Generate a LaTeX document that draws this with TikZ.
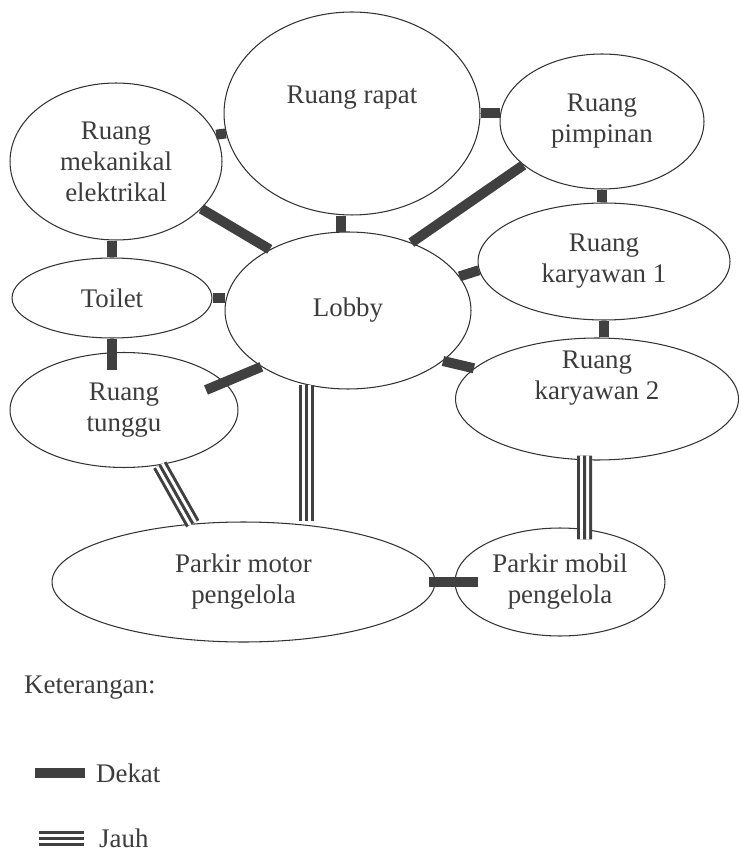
\documentclass[tikz,border=0pt]{standalone}
\usepackage{fontspec}
\setmainfont{Liberation Serif}
\usepackage{tikz}
\usetikzlibrary{shapes.geometric,positioning,calc}
\definecolor{bubbleline}{HTML}{333333}
\definecolor{linkgray}{HTML}{404040}
\definecolor{txtgray}{HTML}{3C3C3C}
\newcommand{\roomfont}{\fontsize{15.3}{17.6}\selectfont}

\begin{document}
\begin{tikzpicture}[x=0.02cm,y=-0.02cm]
    \tikzstyle{room}=[ellipse,draw=bubbleline,line width=0.6pt,inner sep=0pt,align=center,text=txtgray,font=\roomfont]
    \tikzstyle{roomtext}=[align=center,text=txtgray,font=\roomfont]
    \tikzstyle{dekat}=[draw=linkgray,line width=0.2cm]
    \tikzstyle{jauh}=[draw=linkgray,line width=0.3cm,postaction={draw=white,line width=0.18cm},postaction={draw=linkgray,line width=0.06cm}]
    \tikzstyle{legend}=[text=txtgray,font=\roomfont]
    \useasboundingbox (0,0) rectangle (740,857);
    % rooms
    \node[room,minimum width=5.12cm,minimum height=4.06cm,label={[roomtext,yshift=0.32cm]center:Ruang rapat}] (rapat) at (352,113.5) {};
    \node[room,minimum width=4.08cm,minimum height=2.7cm] (pimpinan) at (602,121.5) {Ruang\\pimpinan};
    \node[room,minimum width=4.24cm,minimum height=3.14cm] (mekanikal) at (116,161.5) {Ruang\\mekanikal\\elektrikal};
    \node[room,minimum width=4cm,minimum height=1.6cm] (toilet) at (112,298) {Toilet};
    \node[room,minimum width=4.92cm,minimum height=3.14cm] (lobby) at (348,310.5) {Lobby};
    \node[room,minimum width=5.04cm,minimum height=2.34cm] (kary1) at (604,261.5) {Ruang\\karyawan 1};
    \node[room,minimum width=5.66cm,minimum height=2.44cm,label={[roomtext,yshift=0.42cm]center:Ruang\\karyawan 2}] (kary2) at (597,399) {};
    \node[room,minimum width=4.56cm,minimum height=2.3cm] (tunggu) at (124,410) {Ruang\\tunggu};
    \node[room,minimum width=7.66cm,minimum height=2.4cm] (motor) at (243.5,582) {Parkir motor\\pengelola};
    \node[room,minimum width=4.2cm,minimum height=2.16cm] (mobil) at (560,582) {Parkir mobil\\pengelola};
    % dekat
    \draw[dekat] (rapat.east) -- (rapat.east -| pimpinan.west);
    \draw[dekat] (mekanikal.15) -- (rapat.189);
    \draw[dekat] (mekanikal.331) -- (lobby.142);
    \draw[dekat] (toilet.north) -- (toilet.north |- mekanikal.south);
    \draw[dekat] (lobby.95) -- (lobby.95 |- rapat.south);
    \draw[dekat] (pimpinan.209) -- (lobby.47);
    \draw[dekat] (pimpinan.south) -- (pimpinan.south |- kary1.north);
    \draw[dekat] (lobby.17) -- (kary1.184);
    \draw[dekat] (toilet.east) -- (toilet.east -| lobby.west);
    \draw[dekat] (kary1.south) -- (kary1.south |- kary2.north);
    \draw[dekat] (lobby.332) -- (kary2.166);
    \coordinate (tunggutop) at (112,370);
    \draw[dekat] (toilet.south) -- (tunggutop);
    \coordinate (tunggubar) at (206,390);
    \draw[dekat] (lobby.213) -- (tunggubar);
    \draw[dekat] ([xshift=-0.14cm]motor.east) -- ([xshift=0.46cm]mobil.west);
    % jauh
    \draw[jauh] (tunggu.303) -- (motor.131);
    \draw[jauh] (lobby.241) -- (lobby.241 |- motor.north);
    \draw[jauh] ([xshift=-0.25cm,yshift=0.1cm]kary2.south) -- ([xshift=0.49cm,yshift=-0.24cm]mobil.north);
    % keterangan
    \node[legend,anchor=west] (keterangan) at (18,688) {Keterangan:};
    \coordinate (dekatA) at (35,773);
    \coordinate (dekatB) at (85,773);
    \draw[dekat] (dekatA) -- (dekatB);
    \node[legend,right=0.1cm of dekatB] (lgdekat) {Dekat};
    \coordinate (jauhA) at (39,838);
    \coordinate (jauhB) at (84,838);
    \draw[jauh] (jauhA) -- (jauhB);
    \node[legend,right=0.18cm of jauhB] (lgjauh) {Jauh};
\end{tikzpicture}
\end{document}
